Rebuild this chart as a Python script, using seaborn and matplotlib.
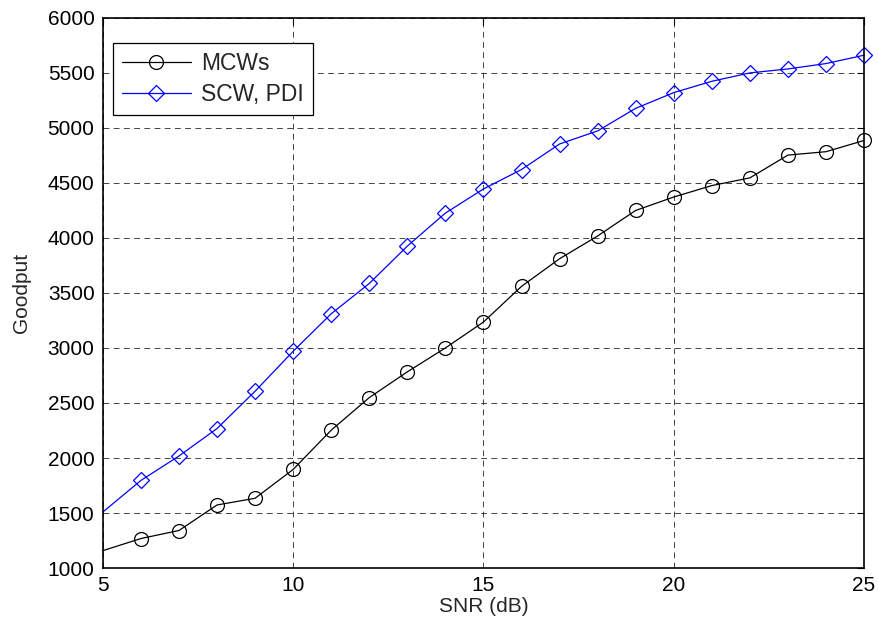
import numpy as np
import pandas as pd
import matplotlib
matplotlib.use("Agg")
import matplotlib.pyplot as plt
import seaborn as sns

snr = list(range(5, 26))
mcws = [1158, 1268, 1341, 1573, 1634, 1896, 2253, 2549, 2783, 3000, 3236,
        3560, 3811, 4018, 4250, 4372, 4476, 4546, 4753, 4784, 4886]
scw_pdi = [1509, 1796, 2018, 2268, 2607, 2970, 3311, 3586, 3926, 4226, 4445,
           4622, 4854, 4973, 5178, 5321, 5424, 5500, 5536, 5585, 5661]
series_names = ["MCWs", "SCW, PDI"]
xticks = [5, 10, 15, 20, 25]
yticks = [1000, 1500, 2000, 2500, 3000, 3500, 4000, 4500, 5000, 5500, 6000]

sns.set_style("white")
plt.rcParams['font.family'] = ['Liberation Sans', 'DejaVu Sans']

fig = plt.figure(figsize=(8.79, 6.28), dpi=100)
ax = fig.add_axes([0.117, 0.0955, 0.866, 0.876])

df1 = pd.DataFrame({"snr": snr, "goodput": mcws})
df2 = pd.DataFrame({"snr": snr, "goodput": scw_pdi})

mk_idx = list(range(1, len(snr)))

sns.lineplot(data=df1, x="snr", y="goodput", ax=ax, color="black", lw=0.9,
             marker="o", markersize=10, markerfacecolor="none",
             markeredgecolor="black", markeredgewidth=0.9, markevery=mk_idx,
             label=series_names[0], clip_on=False)
sns.lineplot(data=df2, x="snr", y="goodput", ax=ax, color="#0000ff", lw=0.9,
             marker="D", markersize=8, markerfacecolor="none",
             markeredgecolor="#0000ff", markeredgewidth=0.9, markevery=mk_idx,
             label=series_names[1], clip_on=False)

ax.set_xlim(5, 25)
ax.set_ylim(1000, 6000)
ax.set_xticks(xticks)
ax.set_yticks(yticks)
ax.tick_params(direction="in", length=5, width=0.8, top=True, right=True,
               labelsize=15, colors="black", pad=6)
ax.grid(True, color="#222222", linestyle=(0, (6, 4.5)), linewidth=0.7, alpha=0.85)
for s in ax.spines.values():
    s.set_visible(True)
    s.set_color("black")
    s.set_linewidth(1.2)

ax.set_xlabel("SNR (dB)", fontsize=15, labelpad=1)
ax.set_ylabel("Goodput", fontsize=15, labelpad=12)

leg = ax.legend(loc="upper left", bbox_to_anchor=(10 / 761, 1 - 25 / 550),
                fontsize=16.5, frameon=True, fancybox=False, edgecolor="black",
                handlelength=3.0, borderpad=0.4, labelspacing=0.35,
                borderaxespad=0, handletextpad=0.45)
leg.get_frame().set_linewidth(0.9)
leg.get_frame().set_alpha(1)

fig.savefig("out.png", dpi=100, facecolor="white")
